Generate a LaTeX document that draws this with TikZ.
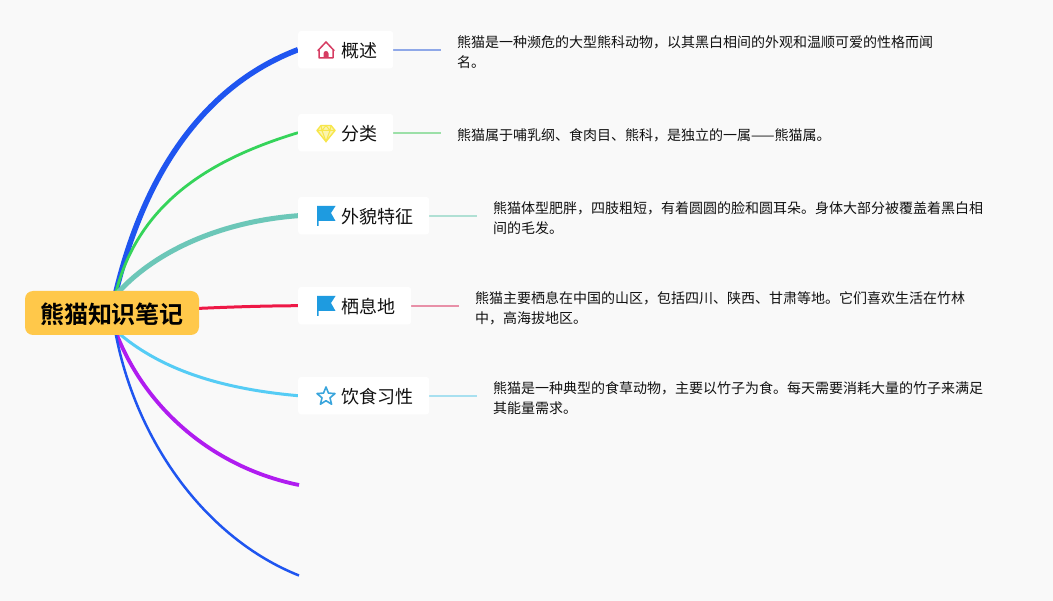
\documentclass[tikz,border=0pt]{standalone}
\usepackage{fontspec}
\usepackage{amsmath}
\setmainfont{Noto Sans CJK SC}[BoldFont={* Bold}]
\usetikzlibrary{backgrounds}
\definecolor{pagebg}{HTML}{F9F9F9}
\definecolor{rootcol}{HTML}{FFC84A}
\definecolor{inkcol}{HTML}{111111}
\definecolor{blueA}{HTML}{1F55F0}
\definecolor{greenA}{HTML}{35D45A}
\definecolor{tealA}{HTML}{6CC7B8}
\definecolor{redA}{HTML}{EE1846}
\definecolor{cyanA}{HTML}{55CCF5}
\definecolor{purpleA}{HTML}{B01CF0}
\definecolor{leafblue}{HTML}{8FA8E8}
\definecolor{leafgreen}{HTML}{9CE0A8}
\definecolor{leafteal}{HTML}{B0E0D4}
\definecolor{leafred}{HTML}{E890A8}
\definecolor{leafcyan}{HTML}{A8E0F0}
\definecolor{housecol}{HTML}{D63C62}
\definecolor{gemcol}{HTML}{F7E64A}
\definecolor{flagcol}{HTML}{1E9BE0}
\definecolor{starcol}{HTML}{3AA5DC}
\tikzset{
	rootbox/.style={fill=rootcol,rounded corners=8pt,minimum width=174pt,minimum height=44pt,inner sep=0pt,text height=22pt,text depth=0pt,font=\fontsize{24}{24}\selectfont\bfseries,text=black},
	topicbox/.style={fill=white,rounded corners=3pt,anchor=west,minimum height=37.5pt,inner xsep=16pt,inner ysep=0pt,text height=16pt,text depth=0pt,font=\fontsize{18}{18}\selectfont,text=inkcol},
	detailbox/.style={anchor=west,align=left,inner xsep=16pt,inner ysep=0pt,font=\fontsize{14}{20}\selectfont,text=inkcol},
	leaf/.style={line width=2pt},
	icon house/.pic={
		\draw[draw=#1,line width=1.5pt,line join=round] (-8,0.5) -- (0,-8) -- (8,0.5) -- (7,0.5) -- (7,8) -- (-7,8) -- (-7,0.5) -- cycle;
		\fill[#1] (-2.5,8) -- (-2.5,3.5) arc[start angle=180,end angle=360,radius=2.5] -- (2.5,8) -- cycle;
	},
	icon gem/.pic={
		\draw[draw=#1,fill=#1!45,line width=1.4pt,line join=round] (-5,-7.5) -- (5,-7.5) -- (9,-2.5) -- (0,8.5) -- (-9,-2.5) -- cycle;
		\draw[draw=#1,line width=1pt] (-9,-2.5) -- (9,-2.5) (-4,-2.5) -- (0,8.5) -- (4,-2.5) (-5,-7.5) -- (-4,-2.5) -- (0,-7.5) -- (4,-2.5) -- (5,-7.5);
	},
	icon flag/.pic={
		\fill[#1] (-9,-9.5) -- (9.5,-9.5) -- (5,-2.5) -- (9.5,5.5) -- (-7.5,5.5) -- (-7.5,10.5) -- (-9,10.5) -- cycle;
	},
	icon star/.pic={
		\draw[draw=#1,line width=1.6pt,line join=round] (-90:9.5) -- (-54:4.2) -- (-18:9.5) -- (18:4.2) -- (54:9.5) -- (90:4.2) -- (126:9.5) -- (162:4.2) -- (198:9.5) -- (234:4.2) -- cycle;
	},
}
\begin{document}
\begin{tikzpicture}[x=1pt,y=-1pt]
	\useasboundingbox (0,0) rectangle (1053,601);
	\node[rootbox] (root) at (112,313) {熊猫知识笔记};
	\node[topicbox] (overview) at (298,49.7) {\hspace*{27pt}概述};
	\node[topicbox] (kinds) at (298,132.7) {\hspace*{27pt}分类};
	\node[topicbox] (looks) at (298,215.7) {\hspace*{27pt}外貌特征};
	\node[topicbox] (habitat) at (298,305.7) {\hspace*{27pt}栖息地};
	\node[topicbox] (diet) at (298,395.7) {\hspace*{27pt}饮食习性};
	\coordinate (emptyA) at (299,485);
	\coordinate (emptyB) at (299,575.5);
	\coordinate (rootTop) at (115,296);
	\coordinate (rootBot) at (115,330);
	\node[detailbox] (overviewText) at (441,52) {熊猫是一种濒危的大型熊科动物，以其黑白相间的外观和温顺可爱的性格而闻\\名。};
	\node[detailbox] (kindsText) at (441,135) {熊猫属于哺乳纲、食肉目、熊科，是独立的一属——熊猫属。};
	\node[detailbox] (looksText) at (477,218) {熊猫体型肥胖，四肢粗短，有着圆圆的脸和圆耳朵。身体大部分被覆盖着黑白相\\间的毛发。};
	\node[detailbox] (habitatText) at (459,308) {熊猫主要栖息在中国的山区，包括四川、陕西、甘肃等地。它们喜欢生活在竹林\\中，高海拔地区。};
	\node[detailbox] (dietText) at (477,398) {熊猫是一种典型的食草动物，主要以竹子为食。每天需要消耗大量的竹子来满足\\其能量需求。};
	\pic at (326,50) {icon house=housecol};
	\pic at (326,133) {icon gem=gemcol};
	\pic at (326,215.5) {icon flag=flagcol};
	\pic at (326,305.5) {icon flag=flagcol};
	\pic at (326,396.5) {icon star=starcol};
	\begin{scope}[on background layer]
		\fill[pagebg] (0,0) rectangle (1053,601);
		\draw[blueA,line width=5.5pt] (rootTop) .. controls (148,155) and (218,80) .. (overview.west);
		\draw[greenA,line width=2.8pt] (rootTop) .. controls (138,200) and (215,158) .. (kinds.west);
		\draw[tealA,line width=5pt] (rootTop) .. controls (150,255) and (215,222) .. (looks.west);
		\draw[redA,line width=3pt] (root.center) .. controls (180,309) and (240,306) .. (habitat.west);
		\draw[cyanA,line width=3pt] (rootBot) .. controls (165,375) and (235,390) .. (diet.west);
		\draw[purpleA,line width=3.8pt] (rootBot) .. controls (145,410) and (215,468) .. (emptyA);
		\draw[blueA,line width=2.5pt] (rootBot) .. controls (135,440) and (205,538) .. (emptyB);
		\draw[leaf,leafblue] (overview.east) -- (overviewText.west |- overview.east);
		\draw[leaf,leafgreen] (kinds.east) -- (kindsText.west |- kinds.east);
		\draw[leaf,leafteal] (looks.east) -- (looksText.west |- looks.east);
		\draw[leaf,leafred] (habitat.east) -- (habitatText.west |- habitat.east);
		\draw[leaf,leafcyan] (diet.east) -- (dietText.west |- diet.east);
	\end{scope}
\end{tikzpicture}
\end{document}
